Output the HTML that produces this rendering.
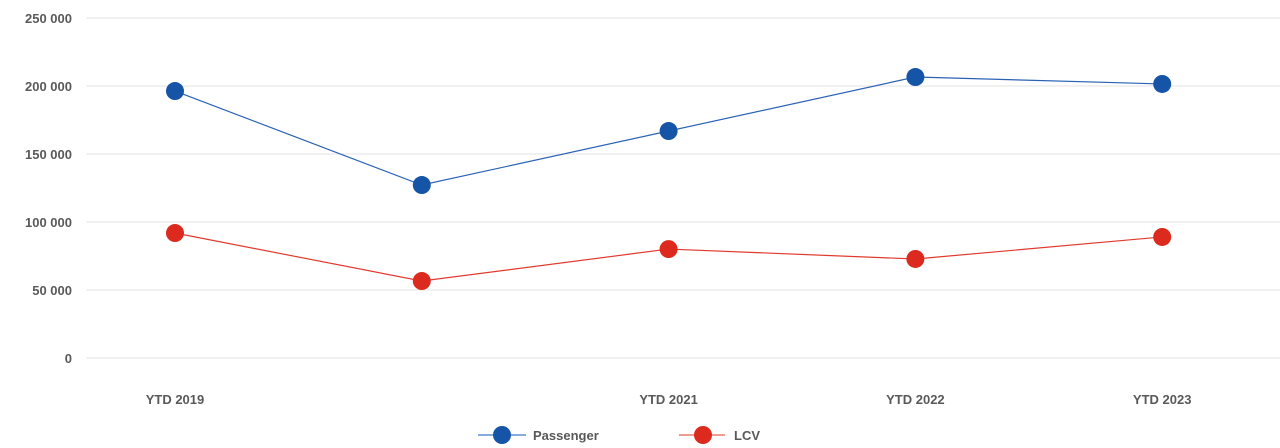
<!DOCTYPE html>
<html><head><meta charset="utf-8"><style>
html,body{margin:0;padding:0;background:#fff;width:1280px;height:448px;overflow:hidden}
svg text{font-family:"Liberation Sans",sans-serif;font-size:13px;font-weight:bold;fill:#595959}
</style></head><body>
<svg id="chart" width="1280" height="448" xmlns="http://www.w3.org/2000/svg">
<g id="grid"></g>
<g id="yaxis"></g>
<g id="xaxis"></g>
<g id="series"></g>
<g>
 <g>
  <line x1="478" y1="435" x2="526" y2="435" stroke="#5b8fd0" stroke-width="1.5"/>
  <circle cx="502" cy="435" r="9" fill="#1554a6"/>
  <text x="533" y="440">Passenger</text>
 </g>
 <g>
  <line x1="679" y1="435" x2="725" y2="435" stroke="#ee7a72" stroke-width="1.5"/>
  <circle cx="703" cy="435" r="9" fill="#dc2a1e"/>
  <text x="734" y="440">LCV</text>
 </g>
</g>
</svg>
<script>
const categories = ["YTD 2019","","YTD 2021","YTD 2022","YTD 2023"];
const passenger = [196300,127200,166900,206600,201500];
const lcv = [91900,56600,80100,72800,89000];
const yTicks = [0,50000,100000,150000,200000,250000];
const yTickLabels = ["0","50 000","100 000","150 000","200 000","250 000"];

const NS="http://www.w3.org/2000/svg";
const y0=358, pxPer=68/50000;
function yScale(v){return y0-v*pxPer;}
function xScale(i){return 175+i*246.8;}
function mk(tag,attrs,parent){const e=document.createElementNS(NS,tag);for(const k in attrs)e.setAttribute(k,attrs[k]);parent.appendChild(e);return e;}
const grid=document.getElementById('grid'),ya=document.getElementById('yaxis'),xa=document.getElementById('xaxis'),ser=document.getElementById('series');
yTicks.forEach((t,i)=>{
  const l=mk('line',{x1:86,x2:1280,y1:yScale(t),y2:yScale(t),stroke:'#e3e3e3','stroke-width':1},grid);
  
  
  const tx=mk('text',{x:72,y:yScale(t)+5,'text-anchor':'end'},ya);
  tx.textContent=yTickLabels[i];
  
  
});
categories.forEach((c,i)=>{
  const tx=mk('text',{x:xScale(i),y:404,'text-anchor':'middle'},xa);
  tx.textContent=c;
  
  
});
function draw(vals,line,dot,name){
  const p=mk('polyline',{points:vals.map((v,i)=>xScale(i)+','+yScale(v)).join(' '),fill:'none',stroke:line,'stroke-width':1.2},ser);
  
  
  vals.forEach((v,i)=>{
    const c=mk('circle',{cx:xScale(i),cy:yScale(v),r:9,fill:dot},ser);
    
    
  });
}
draw(passenger,'#2a62b4','#1554a6','passenger');
draw(lcv,'#e03a2f','#dc2a1e','lcv');
</script>
</body></html>
